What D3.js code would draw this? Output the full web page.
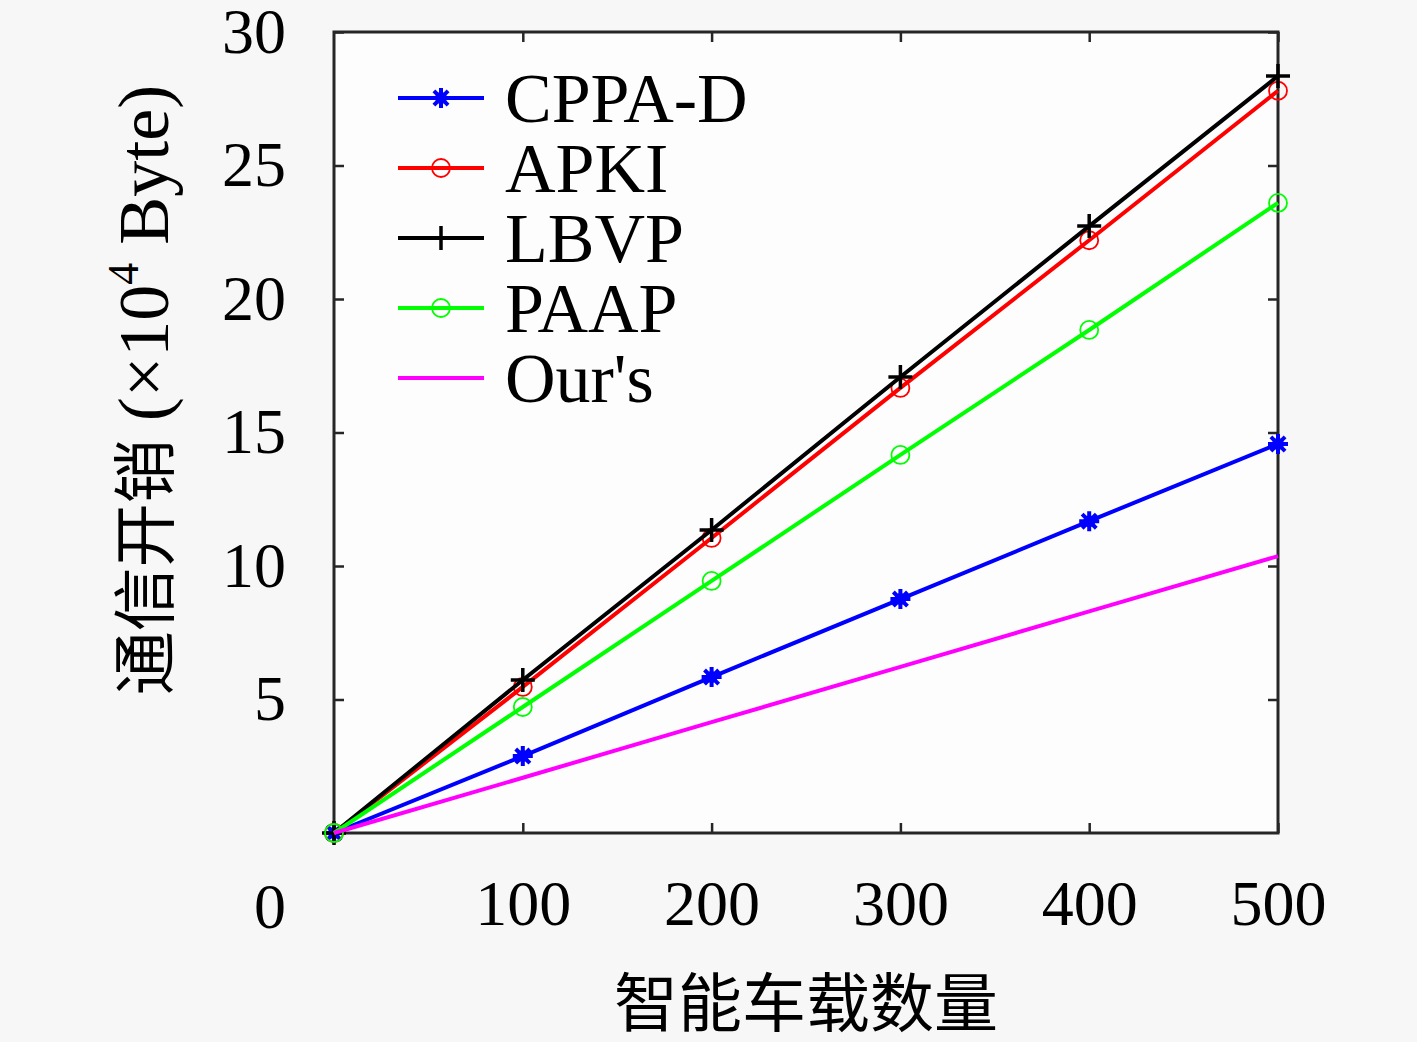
<!DOCTYPE html>
<html>
<head>
<meta charset="utf-8">
<script src="https://cdn.jsdelivr.net/npm/d3@7"></script>
<style>
  html, body { margin: 0; padding: 0; background: #f7f7f7; }
  svg { display: block; }
</style>
</head>
<body>
<svg id="chart" width="1417" height="1042"></svg>
<script>
// data (x: vehicles, y: x10^4 Byte)
var vehicles = [0, 100, 200, 300, 400, 500];
var cppaD = [0, 2.88, 5.84, 8.76, 11.68, 14.57];
var apki  = [0, 5.47, 11.05, 16.67, 22.2, 27.8];
var lbvp  = [0, 5.73, 11.35, 17.08, 22.73, 28.35];
var paap  = [0, 4.72, 9.44, 14.16, 18.84, 23.6];
var ours  = [0, 2.07, 4.15, 6.22, 8.3, 10.37];
var seriesNames = ["CPPA-D", "APKI", "LBVP", "PAAP", "Our's"];
var xTicks = [100, 200, 300, 400, 500];
var yTicks = [5, 10, 15, 20, 25, 30];

var series = [
  { name: seriesNames[0], values: cppaD, color: "#0000ff", marker: "star" },
  { name: seriesNames[1], values: apki,  color: "#ff0000", marker: "circle" },
  { name: seriesNames[2], values: lbvp,  color: "#000000", marker: "plus" },
  { name: seriesNames[3], values: paap,  color: "#00ff00", marker: "circle" },
  { name: seriesNames[4], values: ours,  color: "#ff00ff", marker: null }
];

var svg = d3.select("#chart");
var pLeft = 334, pRight = 1278, pTop = 32, pBottom = 833;
var serif = "'Liberation Serif', 'DejaVu Serif', serif";
var cjk = "'Noto Sans CJK SC', sans-serif";
var axisColor = "#262626";

var x = d3.scaleLinear().domain([0, 500]).range([pLeft, pRight]);
var y = d3.scaleLinear().domain([0, 30]).range([pBottom, pTop]);

svg.append("rect")
  .attr("x", pLeft).attr("y", pTop)
  .attr("width", pRight - pLeft).attr("height", pBottom - pTop)
  .attr("fill", "#fdfdfd");

// axes with inward ticks
function styleAxis(g, showText) {
  g.select(".domain").remove();
  g.selectAll(".tick line").attr("stroke", axisColor).attr("stroke-width", 2.5);
  g.selectAll(".tick text")
    .attr("font-family", serif).attr("font-size", 64).attr("fill", "#000");
  if (!showText) g.selectAll(".tick text").remove();
}

svg.append("g").attr("transform", "translate(0," + pBottom + ")")
  .call(d3.axisBottom(x).tickValues(xTicks).tickSize(-10).tickPadding(47))
  .call(styleAxis, true);
svg.append("g").attr("transform", "translate(0," + pTop + ")")
  .call(d3.axisTop(x).tickValues(xTicks).tickSize(-10))
  .call(styleAxis, false);
svg.append("g").attr("transform", "translate(" + pLeft + ",0)")
  .call(d3.axisLeft(y).tickValues(yTicks).tickSize(-10).tickPadding(48))
  .call(styleAxis, true);
svg.append("g").attr("transform", "translate(" + pRight + ",0)")
  .call(d3.axisRight(y).tickValues(yTicks).tickSize(-10))
  .call(styleAxis, false);

// lone zero label, sits on the x label row
svg.append("text")
  .attr("x", pLeft - 48).attr("y", pBottom + 95)
  .attr("text-anchor", "end")
  .attr("font-family", serif).attr("font-size", 64)
  .text("0");

// box
svg.append("rect")
  .attr("x", pLeft).attr("y", pTop)
  .attr("width", pRight - pLeft).attr("height", pBottom - pTop)
  .attr("fill", "none").attr("stroke", axisColor).attr("stroke-width", 3);

function drawMarker(g, type, color, cx, cy) {
  if (type === "circle") {
    g.append("circle").attr("cx", cx).attr("cy", cy).attr("r", 9)
      .attr("fill", "none").attr("stroke", color).attr("stroke-width", 1.8);
  } else if (type === "plus") {
    g.append("path")
      .attr("d", "M" + (cx - 12) + "," + cy + "H" + (cx + 12) + "M" + cx + "," + (cy - 12) + "V" + (cy + 12))
      .attr("stroke", color).attr("stroke-width", 3.5);
  } else if (type === "star") {
    var d = "";
    for (var k = 0; k < 4; k++) {
      var a = k * Math.PI / 4;
      d += "M" + (cx - 10 * Math.cos(a)) + "," + (cy - 10 * Math.sin(a)) +
           "L" + (cx + 10 * Math.cos(a)) + "," + (cy + 10 * Math.sin(a));
    }
    g.append("path").attr("d", d).attr("stroke", color).attr("stroke-width", 4);
    g.append("circle").attr("cx", cx).attr("cy", cy).attr("r", 6).attr("fill", color);
  }
}

var line = d3.line()
  .x(function(d, i) { return x(vehicles[i]); })
  .y(function(d) { return y(d); });

series.forEach(function(s) {
  var g = svg.append("g");
  g.append("path")
    .attr("d", line(s.values))
    .attr("fill", "none").attr("stroke", s.color).attr("stroke-width", 4);
  if (s.marker) {
    s.values.forEach(function(v, i) {
      drawMarker(g, s.marker, s.color, x(vehicles[i]), y(v));
    });
  }
});

// legend
var legend = svg.append("g");
series.forEach(function(s, i) {
  var cy = 98 + i * 70;
  legend.append("line")
    .attr("x1", 398).attr("x2", 484).attr("y1", cy).attr("y2", cy)
    .attr("stroke", s.color).attr("stroke-width", 4);
  if (s.marker) drawMarker(legend, s.marker, s.color, 441, cy);
  legend.append("text")
    .attr("x", 505).attr("y", cy + 24)
    .attr("font-family", serif).attr("font-size", 70)
    .text(s.name);
});

// axis titles
svg.append("text")
  .attr("x", 806).attr("y", 1026)
  .attr("text-anchor", "middle")
  .attr("font-family", cjk).attr("font-size", 64)
  .text("智能车载数量");

var yl = svg.append("text")
  .attr("transform", "translate(168,390) rotate(-90)")
  .attr("text-anchor", "middle")
  .attr("font-size", 72);
yl.append("tspan").attr("font-family", cjk).attr("font-size", 64).text("通信开销");
yl.append("tspan").attr("font-family", serif).text(" (×10");
yl.append("tspan").attr("font-family", serif).attr("font-size", 44).attr("dy", -30).text("4");
yl.append("tspan").attr("font-family", serif).attr("dy", 30).text(" Byte)");
</script>
</body>
</html>
